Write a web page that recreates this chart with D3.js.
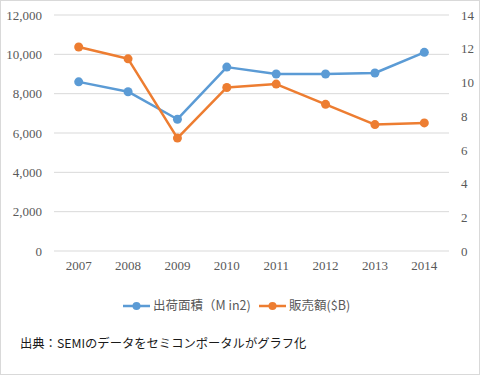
<!doctype html>
<html lang="ja">
<head>
  <meta charset="utf-8">
  <style>
    body { margin: 0; background: #fff; }
    .tick-label { font: 13px "Liberation Serif", serif; fill: #595959; }
    .legend-label { font: 12.5px "Noto Sans CJK JP", sans-serif; fill: #595959; }
    .caption { font: 12.3px "Noto Sans CJK JP", sans-serif; fill: #1a1a1a; }
  </style>
  <script src="https://d3js.org/d3.v7.min.js"></script>
</head>
<body>
  <script>
    const years = ["2007", "2008", "2009", "2010", "2011", "2012", "2013", "2014"];
    const area = [8600, 8100, 6700, 9350, 9000, 9000, 9050, 10100];   // 出荷面積 (M in2), left axis
    const sales = [12.1, 11.4, 6.7, 9.7, 9.9, 8.7, 7.5, 7.6];          // 販売額 ($B), right axis
    const leftTicks = [0, 2000, 4000, 6000, 8000, 10000, 12000];
    const rightTicks = [0, 2, 4, 6, 8, 10, 12, 14];

    const W = 480, H = 376;
    const plot = { left: 54, right: 449, top: 15, bottom: 251 };

    const svg = d3.select("body").append("svg")
      .attr("width", W)
      .attr("height", H);

    // outer frame
    svg.append("rect")
      .attr("x", 0.5).attr("y", 0.5)
      .attr("width", W - 1).attr("height", H - 2)
      .attr("fill", "#fff")
      .attr("stroke", "#d9d9d9");

    const x = d3.scaleBand().domain(years).range([plot.left, plot.right]);
    const yL = d3.scaleLinear().domain([0, 12000]).range([plot.bottom, plot.top]);
    const yR = d3.scaleLinear().domain([0, 14]).range([plot.bottom, plot.top]);

    // gridlines
    svg.append("g")
      .selectAll("line")
      .data(leftTicks)
      .join("line")
      .attr("x1", plot.left).attr("x2", plot.right)
      .attr("y1", d => yL(d)).attr("y2", d => yL(d))
      .attr("stroke", "#d9d9d9")
      .attr("stroke-width", 1);

    // left axis
    const fmt = d3.format(",");
    const gL = svg.append("g")
      .attr("transform", `translate(${plot.left - 12},0)`)
      .call(d3.axisLeft(yL).tickValues(leftTicks).tickFormat(fmt).tickSize(0).tickPadding(0));
    gL.select(".domain").remove();
    gL.selectAll("text").attr("class", "tick-label").attr("fill", null).style("font", null);

    // right axis
    const gR = svg.append("g")
      .attr("transform", `translate(${plot.right + 12},0)`)
      .call(d3.axisRight(yR).tickValues(rightTicks).tickSize(0).tickPadding(0));
    gR.select(".domain").remove();
    gR.selectAll("text").attr("class", "tick-label").attr("fill", null).style("font", null);

    // bottom axis
    const gB = svg.append("g")
      .attr("transform", `translate(0,${plot.bottom + 10})`)
      .call(d3.axisBottom(x).tickSize(0).tickPadding(0));
    gB.select(".domain").remove();
    gB.selectAll("text").attr("class", "tick-label").attr("fill", null).style("font", null);

    const cx = d => x(d) + x.bandwidth() / 2;

    const series = [
      { name: "出荷面積（M in2)", values: area, y: yL, color: "#5b9bd5" },
      { name: "販売額($B)", values: sales, y: yR, color: "#ed7d31" }
    ];

    series.forEach(s => {
      const line = d3.line()
        .x((d, i) => cx(years[i]))
        .y(d => s.y(d));
      svg.append("path")
        .datum(s.values)
        .attr("d", line)
        .attr("fill", "none")
        .attr("stroke", s.color)
        .attr("stroke-width", 2.5)
        .attr("stroke-linejoin", "round");
      svg.append("g")
        .selectAll("circle")
        .data(s.values)
        .join("circle")
        .attr("cx", (d, i) => cx(years[i]))
        .attr("cy", d => s.y(d))
        .attr("r", 4.5)
        .attr("fill", s.color);
    });

    // legend
    const legendPos = [123, 259];
    const legend = svg.append("g").attr("transform", "translate(0,306)");
    series.forEach((s, i) => {
      const g = legend.append("g").attr("transform", `translate(${legendPos[i]},0)`);
      g.append("line")
        .attr("x1", 0).attr("x2", 27)
        .attr("stroke", s.color).attr("stroke-width", 2.5);
      g.append("circle").attr("cx", 13.5).attr("r", 4).attr("fill", s.color);
      g.append("text")
        .attr("class", "legend-label")
        .attr("x", 30)
        .attr("dy", "0.35em")
        .text(s.name);
    });

    // caption
    svg.append("text")
      .attr("class", "caption")
      .attr("x", 20)
      .attr("y", 348)
      .text("出典：SEMIのデータをセミコンポータルがグラフ化");
  </script>
</body>
</html>
